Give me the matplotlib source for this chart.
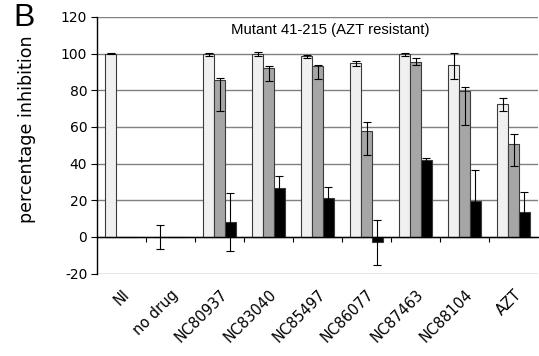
import matplotlib
matplotlib.use("Agg")
import matplotlib.pyplot as plt
import numpy as np

plt.rcParams['axes.unicode_minus'] = False

categories = ['NI', 'no drug', 'NC80937', 'NC83040', 'NC85497', 'NC86077', 'NC87463', 'NC88104', 'AZT']

light_vals = [100, 0, 99.6, 99.6, 98.5, 94.7, 99.6, 93.6, 72.5]
light_err_lo = [0.5, 6.5, 0.8, 1.0, 0.8, 1.3, 0.8, 7.5, 4.0]
light_err_hi = [0.5, 6.5, 0.8, 1.0, 0.8, 1.3, 0.8, 6.5, 3.0]

gray_vals = [0, 0, 85.5, 92.0, 93.4, 57.5, 95.2, 79.8, 50.6]
gray_err_lo = [0, 0, 17.0, 7.0, 7.4, 13.0, 1.4, 18.6, 11.7]
gray_err_hi = [0, 0, 1.1, 1.1, 0.5, 5.4, 2.2, 1.9, 5.4]

black_vals = [0, 0, 8.1, 26.9, 21.0, -2.9, 41.7, 19.7, 13.7]
black_err = [0, 0, 16.0, 6.5, 6.5, 12.3, 1.5, 17.0, 11.0]

fig = plt.figure(figsize=(5.39, 3.56), dpi=100)
ax = fig.add_axes([97/539, 1-273.7/356, 441/539, (273.7-16.8)/356])

x = np.arange(len(categories))
w = 0.224
edge = '#3a3a3a'
ekw = dict(ecolor='black', elinewidth=0.8, capsize=3, capthick=0.8)

series = [
    (light_vals, [light_err_lo, light_err_hi], '#f0f0f0', -w),
    (gray_vals, [gray_err_lo, gray_err_hi], '#a6a6a6', 0),
    (black_vals, [black_err, black_err], '#000000', w),
]
for vals, err, col, off in series:
    v = np.array(vals, dtype=float)
    ax.bar(x + off, v, width=w, color=col, edgecolor=edge, linewidth=0.8, zorder=3)
    e = np.array(err, dtype=float)
    mask = (e[0] > 0) | (e[1] > 0)
    ax.errorbar((x + off)[mask], v[mask], yerr=e[:, mask], fmt='none', zorder=4, **ekw)

ax.set_xlim(-0.5, len(categories) - 0.5)
ax.set_ylim(-20, 120)
ax.set_yticks(np.arange(-20, 121, 20))
ax.yaxis.grid(True, color='#808080', linewidth=1.0, zorder=0)
ax.set_axisbelow(True)

for s in ['top', 'right']:
    ax.spines[s].set_visible(False)
ax.spines['left'].set_color('black')
ax.spines['left'].set_linewidth(1.0)
ax.spines['bottom'].set_position(('data', 0))
ax.spines['bottom'].set_color('black')
ax.spines['bottom'].set_linewidth(1.0)
ax.spines['bottom'].set_zorder(5)

ax.set_xticks(x)
ax.set_xticklabels(categories, rotation=45, ha='right', rotation_mode='anchor', fontsize=10.5, family='DejaVu Sans')
ax.tick_params(axis='x', which='major', length=0, pad=36)
ax.set_xticks(np.arange(0.5, len(categories) - 1, 1.0), minor=True)
ax.tick_params(axis='x', which='minor', length=3.5, direction='out', width=0.8)
ax.tick_params(axis='y', length=4, width=0.8, labelsize=10, pad=3)

ax.text((330-97)/441, 112.6, 'Mutant 41-215 (AZT resistant)', transform=ax.get_yaxis_transform(),
        ha='center', va='center', fontsize=10.7, family='Liberation Sans')

fig.text(27/539, 1-129/356, 'percentage inhibition', rotation=90, ha='center', va='center', fontsize=12.6)
fig.text(24.5/539, 1-18/356, 'B', ha='center', va='center', fontsize=23, family='Liberation Sans')

fig.savefig('out.png', dpi=100)
